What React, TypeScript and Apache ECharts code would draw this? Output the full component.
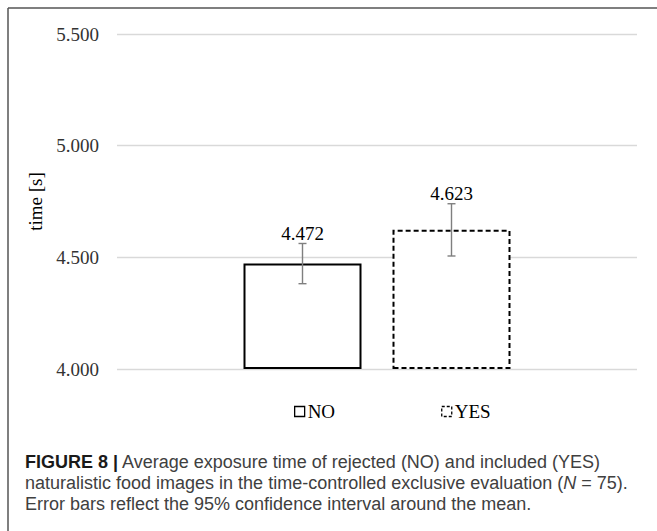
import { useEffect, useRef } from "react";
import * as echarts from "echarts";

// Mean exposure time per decision group, with 95% confidence limits
const categories = ["mean"];
const groups = ["NO", "YES"];
const means = [4.472, 4.623];
const ciLower = [4.382, 4.506];
const ciUpper = [4.562, 4.74];
const yTicks = [4.0, 4.5, 5.0, 5.5];

const captionLines = [
  "{b|FIGURE 8 |} Average exposure time of rejected (NO) and included (YES)",
  "naturalistic food images in the time-controlled exclusive evaluation ({i|N} = 75).",
  "Error bars reflect the 95% confidence interval around the mean.",
];

const SERIF = '"Liberation Serif", "Times New Roman", serif';
const SANS = '"Liberation Sans", Arial, sans-serif';
const BAR_WIDTH = 118;
const BAR_GAP_PX = 31;

export default function App() {
  const ref = useRef<HTMLDivElement>(null);

  useEffect(() => {
    if (!ref.current) return;
    const chart = echarts.init(ref.current, undefined, { renderer: "svg" });

    const half = (BAR_WIDTH + BAR_GAP_PX) / 2;
    const offsets = [-half, half];

    const barSeries = groups.map((g, i) => ({
      name: g,
      type: "bar",
      data: [means[i]],
      barWidth: BAR_WIDTH,
      barGap: `${(BAR_GAP_PX / BAR_WIDTH) * 100}%`,
      itemStyle: {
        color: "#ffffff",
        borderColor: "#000000",
        borderWidth: 2,
        borderType: i === 1 ? [5, 3] : "solid",
      },
      z: 2,
    }));

    const errSeries = groups.map((g, i) => ({
      name: `${g} CI`,
      type: "custom",
      z: 5,
      clip: false,
      encode: { x: 0, y: [1, 2, 3] },
      data: [[0, means[i], ciLower[i], ciUpper[i]]],
      renderItem: (_params: any, api: any) => {
        const x = api.coord([0, api.value(1)])[0] + offsets[i];
        const yHi = api.coord([0, api.value(3)])[1];
        const yLo = api.coord([0, api.value(2)])[1];
        const st = { stroke: "#7f7f7f", lineWidth: 1.4 };
        return {
          type: "group",
          children: [
            { type: "line", shape: { x1: x, y1: yHi, x2: x, y2: yLo }, style: st },
            { type: "line", shape: { x1: x - 4, y1: yHi, x2: x + 4, y2: yHi }, style: st },
            { type: "line", shape: { x1: x - 4, y1: yLo, x2: x + 4, y2: yLo }, style: st },
            {
              type: "text",
              x,
              y: yHi - 10,
              style: {
                text: Number(api.value(1)).toFixed(3),
                fill: "#000000",
                font: `19px ${SERIF}`,
                align: "center",
                verticalAlign: "middle",
              },
            },
          ],
        };
      },
    }));

    const graphic: any[] = [
      { type: "line", shape: { x1: 8, y1: 8, x2: 657, y2: 8 }, style: { stroke: "#555", lineWidth: 1.5 } },
      { type: "line", shape: { x1: 8, y1: 8, x2: 8, y2: 531 }, style: { stroke: "#555", lineWidth: 1.5 } },
      ...captionLines.map((t, k) => ({
        type: "text",
        left: 25,
        top: 453 + k * 21,
        style: {
          text: t,
          fill: "#404040",
          font: `18px ${SANS}`,
          rich: {
            b: { fontWeight: "bold", fill: "#1a1a1a", fontSize: 18, fontFamily: SANS },
            i: { fontStyle: "italic", fill: "#404040", fontSize: 18, fontFamily: SANS },
          },
        },
      })),
    ];

    chart.setOption({
      animation: false,
      backgroundColor: "#ffffff",
      grid: { left: 117, right: 20, top: 34, bottom: 162 },
      legend: {
        data: groups.map((g, i) => ({
          name: g,
          icon: "rect",
          itemStyle: {
            color: "#ffffff",
            borderColor: "#000000",
            borderWidth: 1.3,
            borderType: i === 1 ? [3, 2] : "solid",
          },
        })),
        left: 289,
        top: 397,
        itemWidth: 10,
        itemHeight: 10,
        itemGap: 106,
        textStyle: { fontFamily: SERIF, fontSize: 19, color: "#000000", padding: [0, 0, 0, -2] },
        selectedMode: false,
      },
      xAxis: {
        type: "category",
        data: categories,
        axisLine: { show: false },
        axisTick: { show: false },
        axisLabel: { show: false },
      },
      yAxis: {
        type: "value",
        min: yTicks[0],
        max: yTicks[yTicks.length - 1],
        interval: yTicks[1] - yTicks[0],
        startValue: yTicks[0],
        name: "time [s]",
        nameLocation: "middle",
        nameGap: 70,
        nameTextStyle: { fontFamily: SERIF, fontSize: 19, color: "#000000" },
        axisLine: { show: false },
        axisTick: { show: false },
        axisLabel: {
          margin: 18,
          fontFamily: SERIF,
          fontSize: 19,
          color: "#333333",
          formatter: (v: number) => v.toFixed(3),
        },
        splitLine: { lineStyle: { color: "#d9d9d9", width: 1.3 } },
      },
      series: [...barSeries, ...errSeries],
      graphic,
    } as any);

    return () => chart.dispose();
  }, []);

  return (
    <div
      ref={ref}
      style={{ position: "absolute", left: 0, top: 0, width: 657, height: 531, background: "#fff" }}
    />
  );
}
